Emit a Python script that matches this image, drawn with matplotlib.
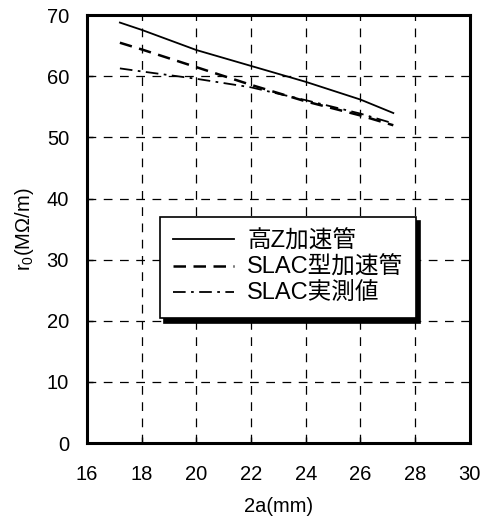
import matplotlib
matplotlib.use("Agg")
import matplotlib.pyplot as plt

plt.rcParams['font.family'] = ['Liberation Sans', 'Noto Sans CJK JP', 'DejaVu Sans']

x = [17.2, 18, 20, 22, 24, 26, 27.2]
high_z = [68.8, 67.6, 64.3, 61.7, 59.1, 56.2, 54.0]
slac_type = [65.5, 64.4, 61.5, 58.6, 55.9, 53.6, 52.0]
slac_meas = [61.3, 60.8, 59.6, 58.2, 56.1, 53.9, 52.3]
labels = ["高Z加速管", "SLAC型加速管", "SLAC実測値"]
xticks = [16, 18, 20, 22, 24, 26, 28, 30]
yticks = [0, 10, 20, 30, 40, 50, 60, 70]

fig = plt.figure(figsize=(4.92, 5.25), dpi=100)
ax = fig.add_axes([0.177, 0.156, 0.778, 0.815])

ax.plot(x, high_z, color='black', lw=1.3, ls='-', label=labels[0])
ax.plot(x, slac_type, color='black', lw=1.8, ls=(0, (5, 3)), label=labels[1])
ax.plot(x, slac_meas, color='black', lw=1.3, ls=(0, (7, 3, 1.5, 3)), label=labels[2])

ax.set_xlim(16, 30)
ax.set_ylim(0, 70)
ax.set_xticks(xticks)
ax.set_yticks(yticks)
ax.grid(True, color='black', ls=(0, (7, 6)), lw=0.9)
ax.tick_params(direction='in', length=4, width=1, labelsize=14.5)
ax.tick_params(axis='x', pad=16)
ax.tick_params(axis='y', pad=13)
for s in ax.spines.values():
    s.set_linewidth(2.2)

ax.set_xlabel("2a(mm)", fontsize=14.5, labelpad=9)
ax.set_ylabel("r$_\\mathregular{0}$(MΩ/m)", fontsize=14.5, labelpad=8)

leg = ax.legend(loc='upper left', bbox_to_anchor=(0.19, 0.528), fontsize=17,
                frameon=True, fancybox=False, shadow={'color': 'black', 'alpha': 1.0, 'ox': 3, 'oy': -3},
                edgecolor='black', handlelength=2.6, handletextpad=0.55,
                borderpad=0.55, labelspacing=0.18, borderaxespad=0)
leg.get_frame().set_linewidth(1.2)
for t in leg.get_texts():
    t.set_family(['Liberation Sans', 'Noto Sans CJK JP'])

fig.savefig("out.png", dpi=100)
